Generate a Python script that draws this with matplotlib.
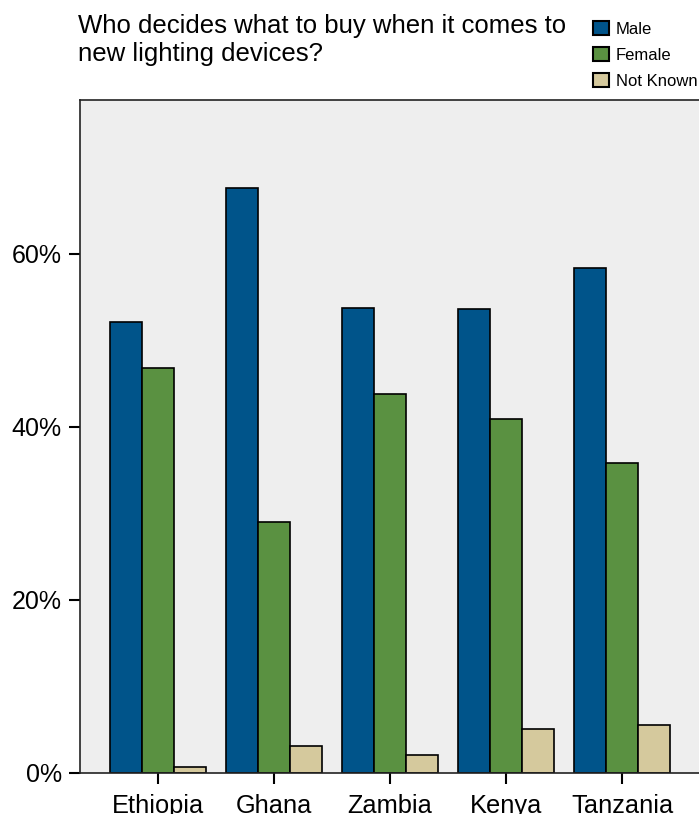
import matplotlib
matplotlib.use("Agg")
import matplotlib.pyplot as plt
import numpy as np

plt.rcParams['font.family'] = ['Liberation Sans', 'DejaVu Sans']

countries = ["Ethiopia", "Ghana", "Zambia", "Kenya", "Tanzania"]
male = [52.1, 67.6, 53.8, 53.6, 58.4]
female = [46.8, 29.0, 43.8, 40.9, 35.8]
not_known = [0.7, 3.1, 2.1, 5.1, 5.5]
series_names = ["Male", "Female", "Not Known"]
colors = ["#00548A", "#5A9141", "#D5C99D"]
yticks = [0, 20, 40, 60]
ytick_labels = ["0%", "20%", "40%", "60%"]

W, H = 699, 814
fig = plt.figure(figsize=(W / 100, H / 100), dpi=100)
ax = fig.add_axes([80 / W, 1 - 773 / H, 625 / W, 673 / H])
ax.set_facecolor("#EEEEEE")

x = np.arange(len(countries))
bw = 0.276
for i, (vals, name, c) in enumerate(zip([male, female, not_known], series_names, colors)):
    ax.bar(x + (i - 1) * bw, vals, width=bw, color=c, edgecolor="black",
           linewidth=1.2, label=name)

ax.set_xlim(-0.672, 4.664 + 0.05)
ax.set_ylim(0, 77.8)
ax.set_xticks(x)
ax.set_xticklabels(countries, fontsize=18.3)
ax.set_yticks(yticks)
ax.set_yticklabels(ytick_labels, fontsize=18)
ax.tick_params(axis="both", direction="out", length=8, width=1.5, color="black")
ax.tick_params(axis="y", pad=5)
ax.tick_params(axis="x", pad=7)
for s in ["left", "top", "bottom"]:
    ax.spines[s].set_color("#222222")
    ax.spines[s].set_linewidth(1.2)
ax.spines["right"].set_visible(False)

fig.text(78 / W, 1 - 14 / H, "Who decides what to buy when it comes to\nnew lighting devices?",
         fontsize=18.5, va="top", ha="left", linespacing=1.2)

handles, labels = ax.get_legend_handles_labels()
leg = fig.legend(handles, labels, loc="upper left", bbox_to_anchor=(593 / W, 1 - 21 / H),
                 frameon=False, fontsize=12, handlelength=0.95, handleheight=0.95,
                 handletextpad=0.4, labelspacing=0.6, borderpad=0, borderaxespad=0)
for p in leg.get_patches():
    p.set_linewidth(1.5)

fig.savefig("out.png", dpi=100)
